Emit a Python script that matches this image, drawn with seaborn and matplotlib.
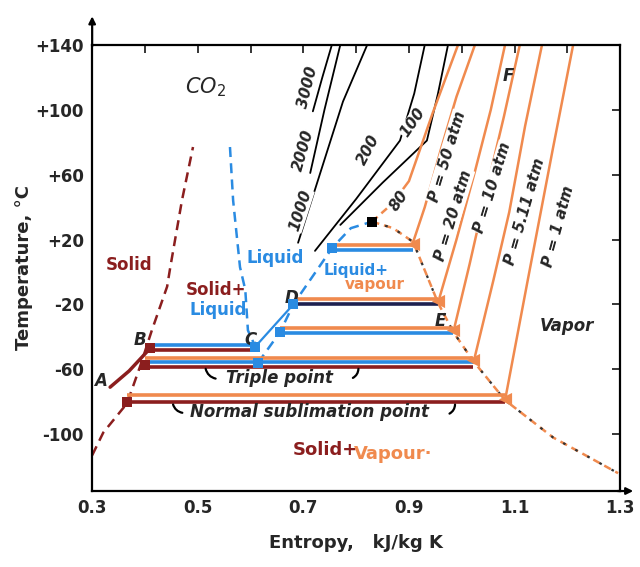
import numpy as np
import pandas as pd
import seaborn as sns
import matplotlib.pyplot as plt

# ---- data (entropy kJ/kg K, temperature C) ----
# saturated solid line (dark red dashed)
solid_s = [0.300, 0.321, 0.366, 0.391, 0.413, 0.442, 0.448, 0.470, 0.491]
solid_t = [-113, -99, -81, -58, -36, -9, 3, 44, 77]
# A-B solid segment
ab_s = [0.334, 0.370, 0.410]
ab_t = [-71, -61, -47]
# saturated liquid (melting side, blue dashed)
melt_s = [0.561, 0.567, 0.580, 0.590, 0.595, 0.609]
melt_t = [77, 44, 3, -11, -36, -46]
# saturated liquid (boiling side, blue dashed)
liq_s = [0.614, 0.656, 0.681, 0.755, 0.790, 0.830]
liq_t = [-56, -37, -20, 15, 27, 31]
# C-D process line
cd_s = [0.609, 0.681]
cd_t = [-46, -20]
# saturated vapour (orange dashed)
vap_s = [0.830, 0.870, 0.908, 0.955, 0.984, 1.022, 1.082, 1.173, 1.296]
vap_t = [31, 27, 18.5, -19, -37, -55, -79, -102, -124]

# two-phase tie lines: (colour, T, s_start, s_end)
ties = [
    ("orange", 16.5, 0.756, 0.908), ("blue", 13.4, 0.756, 0.908),
    ("orange", -16.7, 0.684, 0.955), ("navy", -19.5, 0.684, 0.955),
    ("orange", -34.6, 0.656, 0.984), ("blue", -37.7, 0.656, 0.984),
    ("blue", -45.3, 0.410, 0.609), ("red", -48.0, 0.410, 0.609),
    ("orange", -53.0, 0.400, 1.022), ("blue", -55.6, 0.400, 1.022),
    ("red", -58.6, 0.400, 1.022),
    ("orange", -76.0, 0.366, 1.082), ("red", -80.2, 0.366, 1.082),
]

# supercritical isobars (black), atm
iso_black = {
    "3000": ([0.718, 0.736, 0.754], [99, 120, 140]),
    "2000": ([0.713, 0.740, 0.770], [61, 100, 140]),
    "1000": ([0.690, 0.732, 0.775, 0.821], [18, 61, 105, 140]),
    "200": ([0.722, 0.800, 0.883, 0.910, 0.930], [13, 45, 81, 110, 140]),
    "100": ([0.770, 0.850, 0.934, 0.955, 0.974], [29, 55, 81, 110, 140]),
}
# 80 atm isobar: dashed start near the critical point, then solid
iso80_dash_s = [0.830, 0.868]
iso80_dash_t = [31, 42]
# vapour isobars (orange), atm
iso_orange = {
    "80": ([0.868, 0.900, 0.945, 0.993], [42, 56, 98, 140]),
    "50": ([0.908, 0.930, 0.960, 0.990, 1.025], [18.5, 40, 75, 108, 140]),
    "20": ([0.955, 0.990, 1.025, 1.055, 1.082], [-19, 20, 62, 100, 140]),
    "10": ([0.984, 1.015, 1.045, 1.080, 1.110], [-37, 5, 48, 96, 140]),
    "5.11": ([1.022, 1.060, 1.090, 1.120, 1.152], [-56, -5, 37, 90, 140]),
    "1": ([1.082, 1.125, 1.172, 1.211], [-79, -5, 75, 140]),
}

red_pts_s = [0.410, 0.400, 0.366]
red_pts_t = [-47, -57.5, -80]
blue_pts_s = [0.609, 0.614, 0.656, 0.681, 0.755]
blue_pts_t = [-46, -56, -37, -20, 15]
orange_pts_s = [0.908, 0.955, 0.984, 1.022, 1.082]
orange_pts_t = [17, -18, -36, -54, -78]
crit_s, crit_t = [0.830], [31]

y_ticks = [-100, -60, -20, 20, 60, 100, 140]
y_labels = ["-100", "-60", "-20", "+20", "+60", "+100", "+140"]
x_ticks = [0.3, 0.5, 0.7, 0.9, 1.1, 1.3]

RED = "#8B1E1E"
BLUE = "#2A8BE2"
ORANGE = "#F08A4E"
NAVY = "#1E2150"
cols = {"red": RED, "blue": BLUE, "orange": ORANGE, "navy": NAVY}

sns.set_style("white")
plt.rcParams["font.family"] = ["DejaVu Sans"]

fig = plt.figure(figsize=(6.4, 5.67), dpi=100)
ax = fig.add_axes([0.144, 0.134, 0.825, 0.787])


def curve(s, t, dash=None, **kw):
    df = pd.DataFrame({"s": s, "t": t})
    sns.lineplot(data=df, x="s", y="t", sort=False, estimator=None, ax=ax, **kw)
    if dash is not None:
        ax.lines[-1].set_dashes(dash)


# black isobars
for k, (s, t) in iso_black.items():
    curve(s, t, color="black", lw=1.3)
# orange isobars
for k, (s, t) in iso_orange.items():
    curve(s, t, color=ORANGE, lw=1.8)
curve(iso80_dash_s, iso80_dash_t, dash=(3, 2), color=ORANGE, lw=1.8)

# saturation lines
curve(solid_s, solid_t, dash=(4, 2.5), color=RED, lw=1.8)
curve(ab_s, ab_t, color=RED, lw=2.5)
curve(melt_s, melt_t, dash=(4, 2.5), color=BLUE, lw=1.8)
curve(liq_s, liq_t, dash=(4, 2.5), color=BLUE, lw=1.8)
curve(cd_s, cd_t, color=BLUE, lw=1.6)
curve(vap_s, vap_t, dash=(3, 2), color=ORANGE, lw=1.8)
curve(vap_s, vap_t, dash=(1.2, 5), color="#333333", lw=1.6)

# tie lines
for c, t, s0, s1 in ties:
    ax.hlines(t, s0, s1, color=cols[c], lw=2.6)

# markers
sns.scatterplot(x=red_pts_s, y=red_pts_t, color=RED, marker="s", s=60, linewidth=0, ax=ax, zorder=5)
sns.scatterplot(x=blue_pts_s, y=blue_pts_t, color=BLUE, marker="s", s=55, linewidth=0, ax=ax, zorder=5)
sns.scatterplot(x=orange_pts_s, y=orange_pts_t, color=ORANGE, marker="<", s=90, linewidth=0, ax=ax, zorder=5)
sns.scatterplot(x=crit_s, y=crit_t, color="black", marker="s", s=55, linewidth=0, ax=ax, zorder=6)

ax.set_xlim(0.3, 1.3)
ax.set_ylim(-135, 140)

# isobar labels
lab = dict(fontsize=11, fontweight="bold", style="italic", ha="center", va="center",
           bbox=dict(boxstyle="square,pad=0.05", fc="white", ec="none"))
ax.text(0.709, 114, "3000", rotation=76, **lab)
ax.text(0.700, 75, "2000", rotation=74, **lab)
ax.text(0.694, 38, "1000", rotation=72, **lab)
ax.text(0.823, 75, "200", rotation=62, **lab)
ax.text(0.908, 92, "100", rotation=55, **lab)
ax.text(0.882, 44, "80", rotation=55, **lab)
ax.text(0.972, 71, "P = 50 atm", rotation=73, **lab)
ax.text(0.984, 35, "P = 20 atm", rotation=73, **lab)
ax.text(1.059, 52, "P = 10 atm", rotation=73, **lab)
ax.text(1.120, 37, "P = 5.11 atm", rotation=74, **lab)
ax.text(1.183, 28, "P = 1 atm", rotation=75, **lab)

# point letters
let = dict(fontsize=12, fontweight="bold", style="italic", ha="center", va="center")
ax.text(0.315, -67, "A", **let)
ax.text(0.390, -42, "B", **let)
ax.text(0.600, -42, "C", **let)
ax.text(0.678, -16, "D", **let)
ax.text(0.960, -30, "E", **let)
ax.text(1.088, 121, "F", **let)
ax.text(0.514, 114, "CO$_2$", fontsize=15, style="italic", ha="center", va="center")
ax.text(1.200, -33, "Vapor", fontsize=12, fontweight="bold", style="italic", ha="center", va="center")

# region labels
reg = dict(fontsize=12, fontweight="bold", ha="center", va="center")
ax.text(0.370, 4, "Solid", color=RED, **reg)
ax.text(0.535, -11, "Solid+", color=RED, **reg)
ax.text(0.538, -23.5, "Liquid", color=BLUE, **reg)
ax.text(0.646, 8.5, "Liquid", color=BLUE, **reg)
ax.text(0.800, 1, "Liquid+", color=BLUE, fontsize=11, fontweight="bold", ha="center", va="center")
ax.text(0.836, -8, "vapour", color=ORANGE, fontsize=11, fontweight="bold", ha="center", va="center")
ax.text(0.741, -110, "Solid+", color=RED, fontsize=13, fontweight="bold", ha="center", va="center")
ax.text(0.870, -112, "Vapour·", color=ORANGE, fontsize=13, fontweight="bold", ha="center", va="center")

ax.text(0.655, -65.5, "Triple point", fontsize=12, fontweight="bold", style="italic", ha="center", va="center")
ax.text(0.712, -86, "Normal sublimation point", fontsize=12, fontweight="bold", style="italic",
        ha="center", va="center")
hook = dict(arrowstyle="-", color="black", lw=1.6)
ax.annotate("", xy=(0.514, -58), xytext=(0.539, -66),
            arrowprops=dict(connectionstyle="arc3,rad=-0.4", **hook))
ax.annotate("", xy=(0.804, -58), xytext=(0.789, -66),
            arrowprops=dict(connectionstyle="arc3,rad=0.4", **hook))
ax.annotate("", xy=(0.452, -80), xytext=(0.476, -87),
            arrowprops=dict(connectionstyle="arc3,rad=-0.4", **hook))
ax.annotate("", xy=(0.987, -80), xytext=(0.972, -88),
            arrowprops=dict(connectionstyle="arc3,rad=0.4", **hook))

# axes styling
for sp in ax.spines.values():
    sp.set_linewidth(1.6)
    sp.set_color("black")
ax.set_yticks(y_ticks)
ax.set_yticklabels(y_labels)
ax.set_xticks(x_ticks)
ax.set_xticklabels([f"{v:.1f}" for v in x_ticks])
ax.set_xticks([0.4, 0.6, 0.8, 1.0, 1.2], minor=True)
ax.tick_params(axis="both", which="both", direction="in", length=6, width=1.3,
               top=True, right=True, labelsize=12, pad=6)
for lbl in ax.get_xticklabels() + ax.get_yticklabels():
    lbl.set_fontweight("bold")
ax.set_xlabel("Entropy,   kJ/kg K", fontsize=13, fontweight="bold", labelpad=12)
ax.set_ylabel("Temperature, °C", fontsize=13, fontweight="bold", labelpad=2)

# axis arrows
ax.annotate("", xy=(0, 1.07), xytext=(0, 0.99), xycoords="axes fraction",
            arrowprops=dict(arrowstyle="-|>", color="black", lw=1.6), annotation_clip=False)
ax.annotate("", xy=(1.03, 0), xytext=(0.99, 0), xycoords="axes fraction",
            arrowprops=dict(arrowstyle="-|>", color="black", lw=1.6), annotation_clip=False)

fig.savefig("out.png", dpi=100)
